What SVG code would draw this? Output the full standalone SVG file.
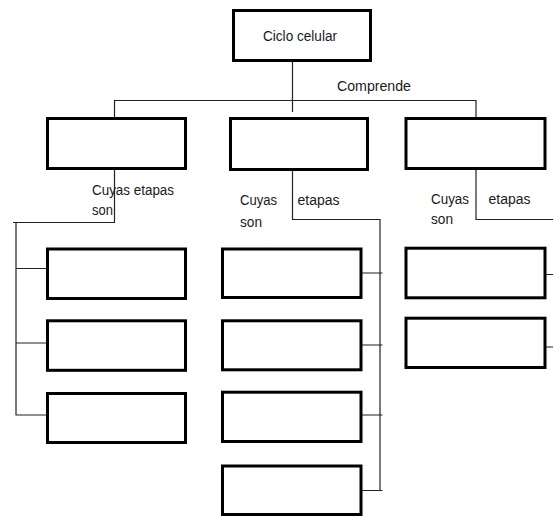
<svg xmlns="http://www.w3.org/2000/svg" width="553" height="517" viewBox="0 0 553 517">
<style>
.box{fill:#fff;stroke:#000;stroke-width:3}
.ln{fill:none;stroke:#222;stroke-width:1.2}
text{font-family:"Liberation Sans",Arial,sans-serif;font-size:15.5px;fill:#1a1a1a}
</style>
<rect width="553" height="517" fill="#fff"/>
<g id="connectors">
<path class="ln" d="M292.5 62 V112 M114 100.5 H476 M114.5 100 V117 M476 100 V117"/>
<path class="ln" d="M114.5 170 V222.5 H13 M16 222 V415.5 M16 268.5 H46 M16 343 H46 M16 415 H46"/>
<path class="ln" d="M292.5 171 V219.5 H380.5 M380 219 V491 M362 273 H382.5 M362 345 H382.5 M362 415 H382.5 M362 490.5 H382.5"/>
<path class="ln" d="M476 170 V219.5 H553 M546 274.5 H553 M546 347 H553"/>
</g>
<g id="ciclo"><rect class="box" x="233.5" y="10.5" width="137" height="50"/><text x="263" y="41" textLength="74" lengthAdjust="spacingAndGlyphs">Ciclo celular</text></g>
<g id="lbl-comprende"><text x="337" y="91" textLength="74" lengthAdjust="spacingAndGlyphs">Comprende</text></g>
<g id="b1"><rect class="box" x="47.5" y="118.5" width="138" height="50"/></g>
<g id="b2"><rect class="box" x="230.5" y="118.5" width="137" height="51"/></g>
<g id="b3"><rect class="box" x="406" y="118.5" width="139" height="50"/></g>
<g id="lbl-left"><text x="92" y="195" textLength="82" lengthAdjust="spacingAndGlyphs">Cuyas etapas</text><text x="92" y="215" textLength="21" lengthAdjust="spacingAndGlyphs">son</text></g>
<g id="lbl-mid"><text x="240" y="204.5" textLength="37" lengthAdjust="spacingAndGlyphs">Cuyas</text><text x="240" y="226.5" textLength="22" lengthAdjust="spacingAndGlyphs">son</text><text x="297.5" y="205" textLength="42" lengthAdjust="spacingAndGlyphs">etapas</text></g>
<g id="lbl-right"><text x="431" y="204" textLength="38" lengthAdjust="spacingAndGlyphs">Cuyas</text><text x="431" y="224" textLength="22" lengthAdjust="spacingAndGlyphs">son</text><text x="488.5" y="204" textLength="42" lengthAdjust="spacingAndGlyphs">etapas</text></g>
<g id="l1"><rect class="box" x="47.5" y="249" width="138" height="49.5"/></g>
<g id="l2"><rect class="box" x="47.5" y="320.8" width="138" height="49.5"/></g>
<g id="l3"><rect class="box" x="47.5" y="393.5" width="138" height="49"/></g>
<g id="m1"><rect class="box" x="222.5" y="249" width="138.5" height="48.5"/></g>
<g id="m2"><rect class="box" x="222.5" y="320.8" width="138.5" height="49"/></g>
<g id="m3"><rect class="box" x="222.5" y="392.2" width="138.5" height="49.3"/></g>
<g id="m4"><rect class="box" x="222.5" y="466" width="138.5" height="48.5"/></g>
<g id="r1"><rect class="box" x="406" y="248.2" width="139" height="49.6"/></g>
<g id="r2"><rect class="box" x="406" y="318.2" width="139" height="49.3"/></g>
</svg>
